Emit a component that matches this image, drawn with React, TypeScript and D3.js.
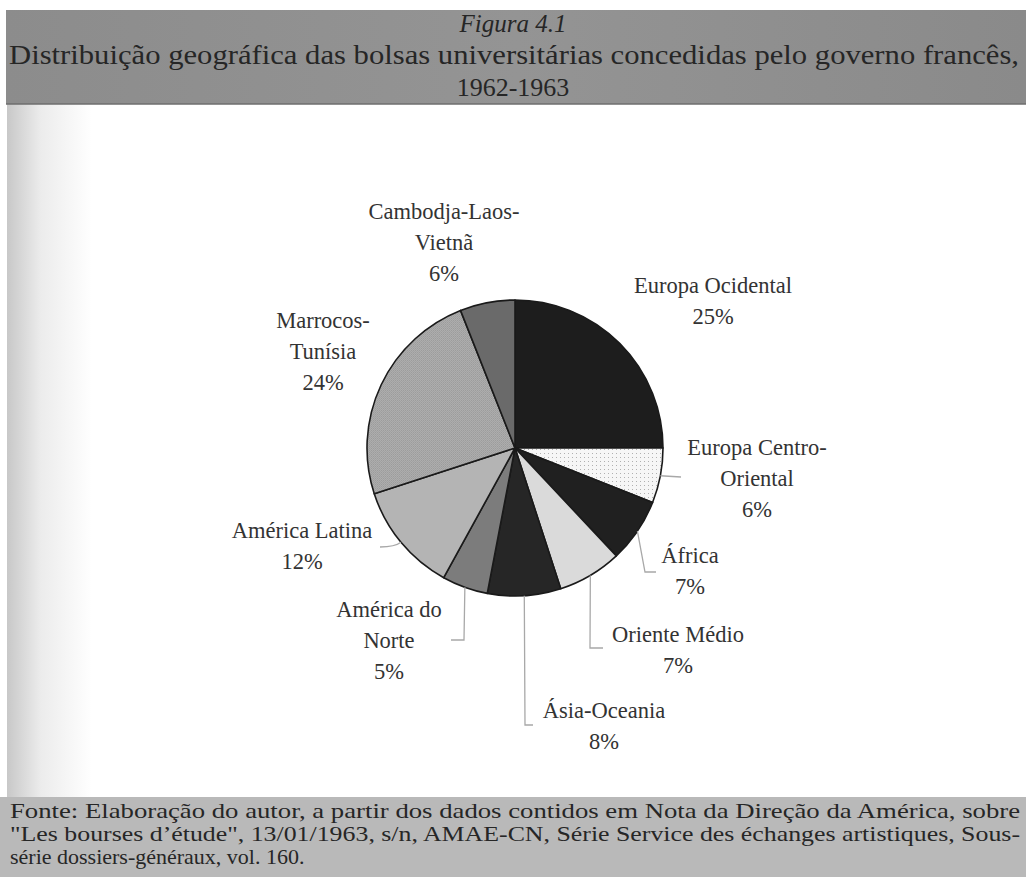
import * as d3 from "d3"

// Figura 4.1 – bolsas universitárias do governo francês, 1962-1963
const categories = [
  "Europa Ocidental",
  "Europa Centro-Oriental",
  "África",
  "Oriente Médio",
  "Ásia-Oceania",
  "América do Norte",
  "América Latina",
  "Marrocos-Tunísia",
  "Cambodja-Laos-Vietnã",
]
const shares = [25, 6, 7, 7, 8, 5, 12, 24, 6]
const labelLines: string[][] = [
  ["Europa Ocidental"],
  ["Europa Centro-", "Oriental"],
  ["África"],
  ["Oriente Médio"],
  ["Ásia-Oceania"],
  ["América do", "Norte"],
  ["América Latina"],
  ["Marrocos-", "Tunísia"],
  ["Cambodja-Laos-", "Vietnã"],
]

const titleLines = [
  "Figura 4.1",
  "Distribuição geográfica das bolsas universitárias concedidas pelo governo francês,",
  "1962-1963",
]
const sourceLines = [
  "Fonte: Elaboração do autor, a partir dos dados contidos em Nota da Direção da América, sobre",
  "\"Les bourses d\u2019étude\", 13/01/1963, s/n, AMAE-CN, Série Service des échanges artistiques, Sous-",
  "série dossiers-généraux, vol. 160.",
]

// layout / styles (kept apart from the data)
const fills: Record<string, string> = {
  "Europa Ocidental": "#1d1d1d",
  "Europa Centro-Oriental": "url(#dots)",
  "África": "#202020",
  "Oriente Médio": "#dadada",
  "Ásia-Oceania": "#262626",
  "América do Norte": "#7c7c7c",
  "América Latina": "#b4b4b4",
  "Marrocos-Tunísia": "url(#grain)",
  "Cambodja-Laos-Vietnã": "#6a6a6a",
}

type Lay = { x: number; y: number; leader?: [number, number][]; curve?: boolean }
const layout: Record<string, Lay> = {
  "Europa Ocidental": { x: 713, y: 293 },
  "Europa Centro-Oriental": { x: 757, y: 455, leader: [[681, 477]] },
  "África": { x: 690, y: 563, leader: [[645, 572], [656, 572]] },
  "Oriente Médio": { x: 678, y: 642, leader: [[590, 648], [603, 648]] },
  "Ásia-Oceania": { x: 604, y: 718, leader: [[525, 725], [533, 725]] },
  "América do Norte": { x: 389, y: 617, leader: [[464, 640], [451, 640]] },
  "América Latina": { x: 302, y: 538, leader: [[380, 547]], curve: true },
  "Marrocos-Tunísia": { x: 323, y: 328 },
  "Cambodja-Laos-Vietnã": { x: 444, y: 219 },
}

const W = 1026
const H = 877
const cx = 515
const cy = 448
const R = 148
const LINE = 31
const serif = "'Liberation Serif', 'Times New Roman', serif"

export default function App() {
  const data = categories.map((c, i) => ({ name: c, value: shares[i], lines: labelLines[i] }))
  const pie = d3.pie<(typeof data)[number]>().sort(null).value((d) => d.value)
  const arcs = pie(data)
  const arc = d3.arc<d3.PieArcDatum<(typeof data)[number]>>().innerRadius(0).outerRadius(R)
  const rim = d3.arc<d3.PieArcDatum<(typeof data)[number]>>().innerRadius(R).outerRadius(R)

  return (
    <svg
      width={W}
      height={H}
      style={{ position: "absolute", left: 0, top: 0, display: "block" }}
      fontFamily={serif}
    >
      <defs>
        <pattern id="dots" width="4" height="4" patternUnits="userSpaceOnUse">
          <rect width="4" height="4" fill="#f6f6f6" />
          <rect x="1" y="1" width="1" height="1" fill="#b0b0b0" />
        </pattern>
        <pattern id="grain" width="2" height="2" patternUnits="userSpaceOnUse">
          <rect width="2" height="2" fill="#adadad" />
          <rect width="1" height="1" fill="#9c9c9c" />
          <rect x="1" y="1" width="1" height="1" fill="#a2a2a2" />
        </pattern>
        <linearGradient id="edge" x1="0" x2="1" y1="0" y2="0">
          <stop offset="0" stopColor="#c8c8c8" />
          <stop offset="0.4" stopColor="#ececec" />
          <stop offset="1" stopColor="#ffffff" />
        </linearGradient>
        <linearGradient id="band" x1="0" x2="1" y1="0" y2="0">
          <stop offset="0" stopColor="#8c8c8c" />
          <stop offset="0.5" stopColor="#949494" />
          <stop offset="1" stopColor="#8a8a8a" />
        </linearGradient>
      </defs>

      <rect width={W} height={H} fill="#ffffff" />
      <rect x={7} y={100} width={85} height={700} fill="url(#edge)" />

      {/* header band */}
      <rect x={6} y={10} width={W - 6} height={94} fill="url(#band)" />
      <line x1={6} x2={W} y1={104} y2={104} stroke="#6e6e6e" strokeWidth={1.5} />
      <g fill="#262626" textAnchor="middle">
        <text x={513} y={32} fontSize={25} fontStyle="italic">
          {titleLines[0]}
        </text>
        <text x={514} y={64} fontSize={26.5} textLength={1010} lengthAdjust="spacingAndGlyphs">
          {titleLines[1]}
        </text>
        <text x={513} y={96} fontSize={26}>
          {titleLines[2]}
        </text>
      </g>

      {/* pie */}
      <g transform={`translate(${cx},${cy})`}>
        {arcs.map((a) => (
          <path
            key={a.data.name}
            d={arc(a) || ""}
            fill={fills[a.data.name]}
            stroke="#1a1a1a"
            strokeWidth={1.6}
            strokeLinejoin="round"
          />
        ))}
      </g>

      {/* leader lines */}
      <g fill="none" stroke="#a8a8a8" strokeWidth={1.3}>
        {arcs.map((a) => {
          const lay = layout[a.data.name]
          if (!lay.leader) return null
          const [px, py] = rim.centroid(a)
          const start: [number, number] = [cx + px, cy + py]
          let d: string
          if (lay.curve) {
            const end = lay.leader[0]
            d = `M${start[0]},${start[1]} Q${start[0] - 6},${end[1]} ${end[0]},${end[1]}`
          } else {
            d = d3.line()([start, ...lay.leader]) || ""
          }
          return <path key={a.data.name} d={d} />
        })}
      </g>

      {/* labels */}
      <g fill="#333333" fontSize={22.5} textAnchor="middle">
        {arcs.map((a) => {
          const lay = layout[a.data.name]
          const rows = [...a.data.lines, `${a.data.value}%`]
          return (
            <text key={a.data.name} x={lay.x} y={lay.y}>
              {rows.map((r, i) => (
                <tspan key={i} x={lay.x} dy={i === 0 ? 0 : LINE}>
                  {r}
                </tspan>
              ))}
            </text>
          )
        })}
      </g>

      {/* source band */}
      <rect x={0} y={797} width={W} height={H - 797} fill="#b9b9b9" />
      <g fill="#262626" fontSize={22}>
        <text x={10} y={818} textLength={1010} lengthAdjust="spacingAndGlyphs">
          {sourceLines[0]}
        </text>
        <text x={10} y={841} textLength={1010} lengthAdjust="spacingAndGlyphs">
          {sourceLines[1]}
        </text>
        <text x={10} y={864}>
          {sourceLines[2]}
        </text>
      </g>
    </svg>
  )
}
